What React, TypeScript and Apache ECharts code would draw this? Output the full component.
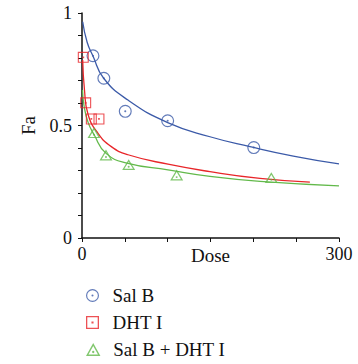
import React, { useEffect, useRef } from "react";
import * as echarts from "echarts";

// Measured points
const salBDose = [12.8, 25.5, 50.5, 100, 200.5];
const salBFa = [0.81, 0.71, 0.563, 0.521, 0.402];
const dhtDose = [1.5, 4.3, 10.9, 19.8];
const dhtFa = [0.803, 0.601, 0.529, 0.529];
const comboDose = [14, 28, 54.5, 110.5, 221];
const comboFa = [0.468, 0.369, 0.326, 0.28, 0.268];

// Fitted curves
const salBCurveDose = [0.8, 6, 12.8, 25.3, 53.7, 100.7, 149.4, 196.1, 246.7, 300];
const salBCurveFa = [0.961, 0.87, 0.809, 0.71, 0.613, 0.512, 0.45, 0.406, 0.364, 0.329];
const dhtCurveDose = [0.8, 2.9, 7, 18.7, 34.2, 53.7, 100.4, 149.4, 207.8, 266];
const dhtCurveFa = [0.791, 0.658, 0.55, 0.465, 0.406, 0.37, 0.328, 0.295, 0.265, 0.248];
const comboCurveDose = [0.6, 2.3, 7, 14, 28.4, 53.7, 100.4, 149.4, 207.8, 300];
const comboCurveFa = [0.658, 0.59, 0.515, 0.46, 0.375, 0.332, 0.303, 0.274, 0.252, 0.232];

const seriesNames = ["Sal B", "DHT I", "Sal B + DHT I"];
const colors = ["#3b5aa8", "#e8262a", "#62b94a"];
const legendTops = [281, 308, 335];

const circleIcon =
  "path://M10 0 A10 10 0 1 1 10 20 A10 10 0 1 1 10 0 Z M10 1.8 A8.2 8.2 0 1 0 10 18.2 A8.2 8.2 0 1 0 10 1.8 Z M10 8.4 A1.6 1.6 0 1 1 10 11.6 A1.6 1.6 0 1 1 10 8.4 Z";
const squareIcon =
  "path://M0 0 L20 0 L20 20 L0 20 Z M2 2 L2 18 L18 18 L18 2 Z M8.4 8.4 L11.6 8.4 L11.6 11.6 L8.4 11.6 Z";
const triangleIcon =
  "path://M10 0 L20 18 L0 18 Z M10 4.1 L3.4 16 L16.6 16 Z M10 10.9 A1.6 1.6 0 1 1 10 14.1 A1.6 1.6 0 1 1 10 10.9 Z";
const icons = [circleIcon, squareIcon, triangleIcon];

const zip = (a: number[], b: number[]) => a.map((v, i) => [v, b[i]]);

export default function App() {
  const ref = useRef<HTMLDivElement>(null);
  useEffect(() => {
    if (!ref.current) return;
    const chart = echarts.init(ref.current, null, { renderer: "svg" });
    const font = "'Liberation Serif', 'Times New Roman', serif";
    const lineSeries = (name: string, d: number[], f: number[], c: string) => ({
      name,
      type: "line",
      data: zip(d, f),
      smooth: 0.5,
      showSymbol: false,
      symbol: "none",
      lineStyle: { color: c, width: 1.3 },
      silent: true,
      z: 1,
    });
    const scatter = (name: string, d: number[], f: number[], c: string, icon: string, size: number[]) => ({
      name,
      type: "scatter",
      data: zip(d, f),
      symbol: icon,
      symbolSize: size,
      symbolKeepAspect: true,
      itemStyle: { color: c },
      z: 3,
    });
    chart.setOption({
      animation: false,
      backgroundColor: "#ffffff",
      textStyle: { fontFamily: font },
      grid: { left: 82, right: 19, top: 13, bottom: 126, containLabel: false },
      xAxis: {
        type: "value",
        min: 0,
        max: 300,
        interval: 50,
        name: "Dose",
        nameLocation: "middle",
        nameGap: 8,
        nameMoveOverlap: false,
        nameTextStyle: { fontFamily: font, fontSize: 19, color: "#111" },
        axisLine: { show: true, lineStyle: { color: "#111", width: 1.5 } },
        axisTick: { show: true, length: 4, lineStyle: { color: "#111", width: 1 } },
        axisLabel: {
          margin: 7,
          fontFamily: font,
          fontSize: 18,
          color: "#111",
          formatter: (v: number) => (v === 0 || v === 300 ? String(v) : ""),
        },
        splitLine: { show: false },
      },
      yAxis: {
        type: "value",
        min: 0,
        max: 1,
        interval: 0.1,
        name: "Fa",
        nameLocation: "middle",
        nameGap: 44,
        nameTextStyle: { fontFamily: font, fontSize: 19, color: "#111" },
        axisLine: { show: true, lineStyle: { color: "#111", width: 1.5 } },
        axisTick: { show: true, length: 4, lineStyle: { color: "#111", width: 1 } },
        axisLabel: {
          margin: 10,
          fontFamily: font,
          fontSize: 18,
          color: "#111",
          formatter: (v: number) => {
            if (Math.abs(v) < 1e-6) return "0";
            if (Math.abs(v - 0.5) < 1e-6) return "0.5";
            if (Math.abs(v - 1) < 1e-6) return "1";
            return "";
          },
        },
        splitLine: { show: false },
      },
      legend: seriesNames.map((n, i) => ({
        orient: "vertical",
        left: 81,
        top: legendTops[i],
        itemWidth: 22,
        itemHeight: 13,
        textStyle: { fontFamily: font, fontSize: 19, color: "#111", padding: [0, 0, 0, 4] },
        data: [{ name: n, icon: icons[i] }],
      })),
      series: [
        lineSeries("Sal B fit", salBCurveDose, salBCurveFa, colors[0]),
        lineSeries("DHT I fit", dhtCurveDose, dhtCurveFa, colors[1]),
        lineSeries("Sal B + DHT I fit", comboCurveDose, comboCurveFa, colors[2]),
        scatter(seriesNames[0], salBDose, salBFa, colors[0], circleIcon, [13, 13]),
        scatter(seriesNames[1], dhtDose, dhtFa, colors[1], squareIcon, [11, 11]),
        scatter(seriesNames[2], comboDose, comboFa, colors[2], triangleIcon, [13, 12]),
      ],
    });
    return () => chart.dispose();
  }, []);
  return (
    <div
      ref={ref}
      style={{ position: "absolute", left: 0, top: 0, width: 358, height: 364 }}
    />
  );
}
